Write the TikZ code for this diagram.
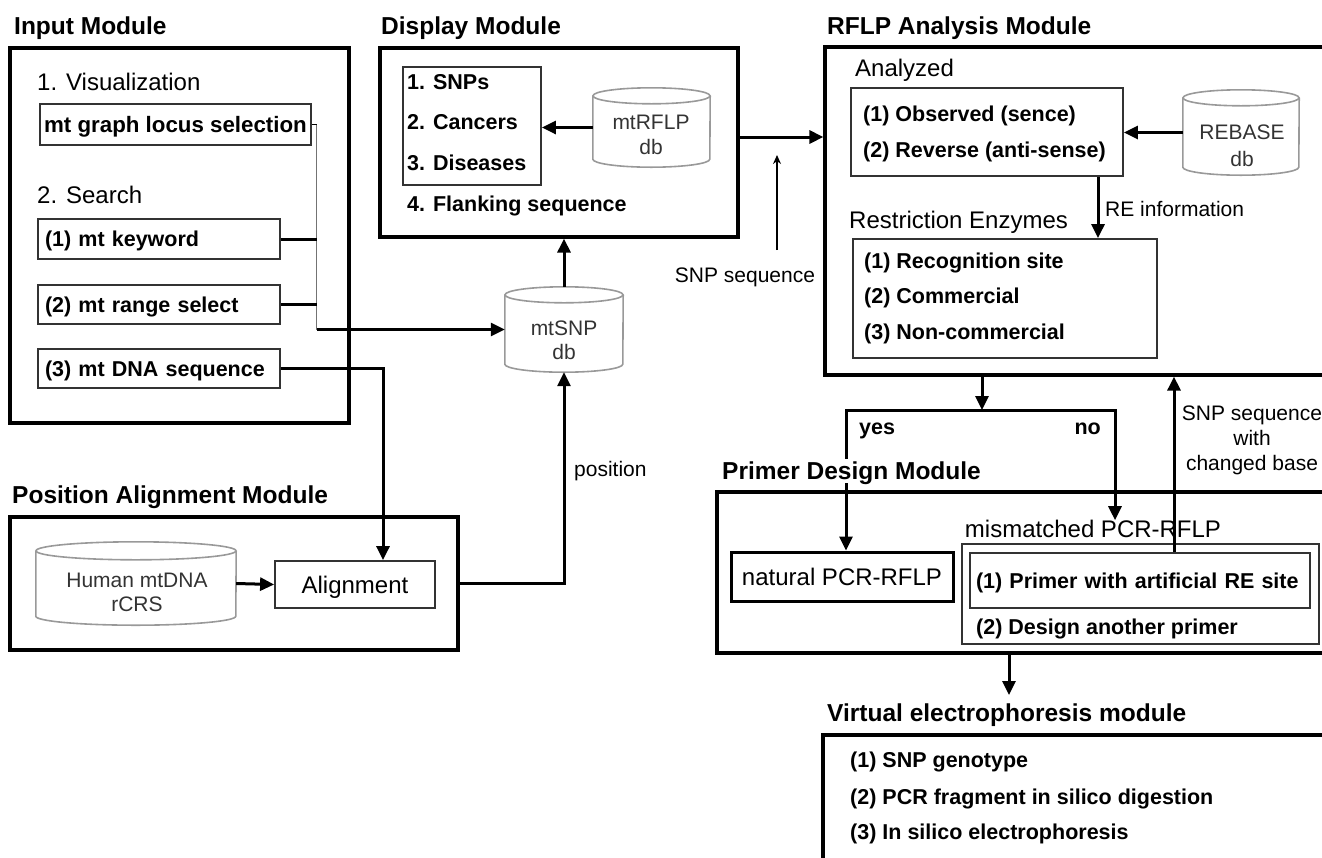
\documentclass[tikz,border=0pt]{standalone}
\usepackage{fontspec}
\setmainfont{Liberation Sans}
\usetikzlibrary{arrows.meta}
\newcommand\fTitle{\fontsize{24.5}{29}\selectfont\bfseries}
\newcommand\fItem{\fontsize{21.5}{25}\selectfont\bfseries}
\newcommand\fSub{\fontsize{24}{28}\selectfont}
\newcommand\fLab{\fontsize{21}{25}\selectfont}
\newcommand\dbcyl[3]{%
  \draw[cyl] ([yshift=-#3]#1.north) ellipse [x radius=#2, y radius=#3];
  \draw[cyl] ([yshift=-#3]#1.north west) -- ([yshift=#3]#1.south west)
     arc[start angle=180,end angle=360,x radius=#2,y radius=#3] -- ([yshift=-#3]#1.north east);}
\begin{document}
\begin{tikzpicture}[x=1pt,y=-1pt,
 mod/.style={draw,line width=3.2pt,inner sep=0pt},
 ibox/.style={draw=black!80,line width=1.8pt,inner sep=0pt},
 lbox/.style={ibox,font=\fItem,align=left,inner xsep=7pt,text height=15.5pt,text depth=0pt},
 ttl/.style={font=\fTitle,inner sep=0pt,anchor=west,text height=17.6pt,text depth=0pt},
 sub/.style={font=\fSub,inner sep=0pt,anchor=west,text height=17.2pt,text depth=0pt},
 itm/.style={font=\fItem,inner sep=0pt,anchor=west,text height=15.5pt,text depth=0pt},
 lab/.style={font=\fLab,inner sep=0pt,text height=15pt,text depth=0pt},
 cyltxt/.style={lab,text=black!80},
 cylnode/.style={inner sep=0pt},
 cyl/.style={draw=black!40,line width=1.6pt},
 conn/.style={line width=3pt},
 arr/.style={-{Triangle[length=14pt,width=13pt]}},
 thinarr/.style={line width=1.4pt,-{Stealth[length=9pt,width=8pt]}},
]
\useasboundingbox (0,0) rectangle (1322,857);
\clip (0,0) rectangle (1322,857);

% ---------- Input module
\node[ttl] (tIn) at (14,26) {Input Module};
\node[mod,minimum width=339pt,minimum height=375pt] (inbox) at (179.5,235.5) {};
\node[sub] (tVis) at (37,82) {1. Visualization};
\node[ibox,font={\fontsize{22.3}{26}\selectfont\bfseries},minimum width=271pt,minimum height=41pt,text height=16pt,text depth=0pt] (mtg) at (175.5,124.5) {mt graph locus selection};
\node[sub] (tSearch) at (37,195) {2. Search};
\node[lbox,minimum width=242pt,minimum height=40pt,text width=228pt] (kw) at (159,239) {(1) mt keyword};
\node[lbox,minimum width=242pt,minimum height=39pt,text width=228pt] (rs) at (159,304.5) {(2) mt range select};
\node[lbox,minimum width=242pt,minimum height=39pt,text width=228pt] (dna) at (159,368.5) {(3) mt DNA sequence};

% ---------- Display module
\node[ttl] (tDisp) at (381,26) {Display Module};
\node[mod,minimum width=358pt,minimum height=189pt] (disp) at (559,142.5) {};
\node[ibox,minimum width=138pt,minimum height=118pt] (list) at (472,126) {};
\node[itm] (l1) at (407,82) {1. SNPs};
\node[itm] (l2) at (407,122) {2. Cancers};
\node[itm] (l3) at (407,163) {3. Diseases};
\node[itm] (l4) at (407,204) {4. Flanking sequence};
\node[cylnode,minimum width=117pt,minimum height=79pt] (mtrflp) at (651.5,127.5) {};
\dbcyl{mtrflp}{58.5pt}{8pt}
\node[cyltxt] (mtrflpA) at (651,122) {mtRFLP};
\node[cyltxt] (mtrflpB) at (651,147) {db};
\node[cylnode,minimum width=118pt,minimum height=85pt] (mtsnp) at (564,329.5) {};
\dbcyl{mtsnp}{59pt}{8pt}
\node[cyltxt] (mtsnpA) at (564,328) {mtSNP};
\node[cyltxt] (mtsnpB) at (564,352) {db};

% ---------- RFLP analysis module
\node[ttl] (tRflp) at (827,26) {RFLP Analysis Module};
\node[mod,minimum width=515pt,minimum height=328pt] (rflp) at (1082.5,211) {};
\node[sub] (tAnl) at (855,68) {Analyzed};
\node[ibox,minimum width=272pt,minimum height=88pt] (anl) at (987,132) {};
\node[itm] (anl1) at (863,114) {(1) Observed (sence)};
\node[itm] (anl2) at (863,150) {(2) Reverse (anti-sense)};
\node[cylnode,minimum width=116pt,minimum height=85pt] (rebase) at (1241,132.5) {};
\dbcyl{rebase}{58pt}{8pt}
\node[cyltxt] (rebaseA) at (1242,132) {REBASE};
\node[cyltxt] (rebaseB) at (1242,159) {db};
\node[sub] (tRE) at (849,220) {Restriction Enzymes};
\node[ibox,minimum width=304pt,minimum height=119pt] (rebox) at (1005,298.5) {};
\node[itm] (re1) at (864,261) {(1) Recognition site};
\node[itm] (re2) at (864,296) {(2) Commercial};
\node[itm] (re3) at (864,332) {(3) Non-commercial};
\node[lab,anchor=west] (lREinfo) at (1105,209) {RE information};
\node[lab] (lSnp) at (745,275) {SNP sequence};

% ---------- Position alignment module
\node[ttl] (tPA) at (12,495) {Position Alignment Module};
\node[mod,minimum width=448pt,minimum height=133pt] (pa) at (234,583.5) {};
\node[cylnode,minimum width=200pt,minimum height=83pt] (hum) at (136,583.5) {};
\dbcyl{hum}{100pt}{9pt}
\node[cyltxt] (humA) at (137,580) {Human mtDNA};
\node[cyltxt] (humB) at (137,604) {rCRS};
\node[ibox,font=\fSub,minimum width=160pt,minimum height=47pt,text height=17.2pt,text depth=0pt] (aln) at (355,584.5) {Alignment};
\node[lab,anchor=west] (lPos) at (574,469) {position};

% ---------- Primer design module
\node[mod,minimum width=623pt,minimum height=161pt] (pd) at (1028.5,572.5) {};
\node[draw,line width=3pt,inner sep=0pt,font=\fSub,minimum width=222pt,minimum height=49pt,text height=17.2pt,text depth=0pt] (nat) at (842,576.5) {natural PCR-RFLP};
\node[sub,anchor=center] (mmlab) at (1093,529) {mismatched PCR-RFLP};
\node[ibox,minimum width=357pt,minimum height=100pt] (mm) at (1140.5,594) {};
\node[lbox,minimum width=340pt,minimum height=55pt,text width=328pt,inner xsep=6pt] (mm1) at (1140,580.5) {(1) Primer with artificial RE site};
\node[itm] (mm2) at (976,627) {(2) Design another primer};
\node[lab] (lChgA) at (1252,413) {SNP sequence};
\node[lab] (lChgB) at (1252,438) {with};
\node[lab] (lChgC) at (1252,463) {changed base};
\node[itm] (lYes) at (859,427) {yes};
\node[itm,anchor=east] (lNo) at (1101,427) {no};

% ---------- Virtual electrophoresis module
\node[ttl] (tVE) at (827,713) {Virtual electrophoresis module};
\node[mod,minimum width=517pt,minimum height=165pt] (ve) at (1081.5,817.5) {};
\node[itm] (v1) at (850,760) {(1) SNP genotype};
\node[itm] (v2) at (850,797) {(2) PCR fragment in silico digestion};
\node[itm] (v3) at (850,832) {(3) In silico electrophoresis};

% ---------- connectors
\coordinate (jx) at (316.5,124.5);
\draw[line width=1.4pt] (mtg.east) -- ++(5,0);
\draw[line width=1.6pt,black!55] (jx) -- (jx |- mtsnp.west);
\draw[conn] (kw.east) -- (kw.east -| jx);
\draw[conn] (rs.east) -- (rs.east -| jx);
\draw[conn,arr] (jx |- mtsnp.west) -- (mtsnp.west);
\coordinate (dnaX) at (383,0);
\draw[conn,arr] (dna.east) -| (dnaX |- aln.north);
\draw[conn,arr] (hum.east) -- (aln.west);
\draw[conn,arr] (pa.east) -| (mtsnp.south);
\draw[conn,arr] (mtsnp.north) -- (disp.south -| mtsnp.north);
\draw[conn,arr] (mtrflp.west) -- (list.east |- mtrflp.west);
\path ([yshift=5.5pt]disp.east) coordinate (dOut);
\draw[conn,arr] (dOut) -- (dOut -| rflp.west);
\coordinate (sA) at (777,250);
\coordinate (sB) at (777,155);
\draw[thinarr] (sA) -- (sB);
\draw[conn,arr] (rebase.west) -- (anl.east |- rebase.west);
\coordinate (reX) at (1098,0);
\draw[conn,arr] (reX |- anl.south) -- (reX |- rebox.north);
\coordinate (dX) at (982,0);
\coordinate (brL) at (846,410);
\coordinate (brR) at (1115,410);
\draw[conn,arr] (dX |- rflp.south) -- (dX |- brL);
\draw[conn,line join=miter,{Triangle[length=14pt,width=13pt]}-{Triangle[length=14pt,width=13pt]}] (nat.north -| brL) -- (brL) -- (brR) -- (brR |- mmlab.north);
\coordinate (uX) at (1174,0);
\draw[conn,arr] (uX |- mm1.north) -- (uX |- rflp.south);
\coordinate (vX) at (1009,0);
\draw[conn,arr,shorten >=9pt] (vX |- pd.south) -- (vX |- tVE.north);

% title drawn over the "yes" line
\node[ttl,fill=white,inner ysep=3pt] (tPD) at (722,471) {Primer Design Module};
\end{tikzpicture}
\end{document}
